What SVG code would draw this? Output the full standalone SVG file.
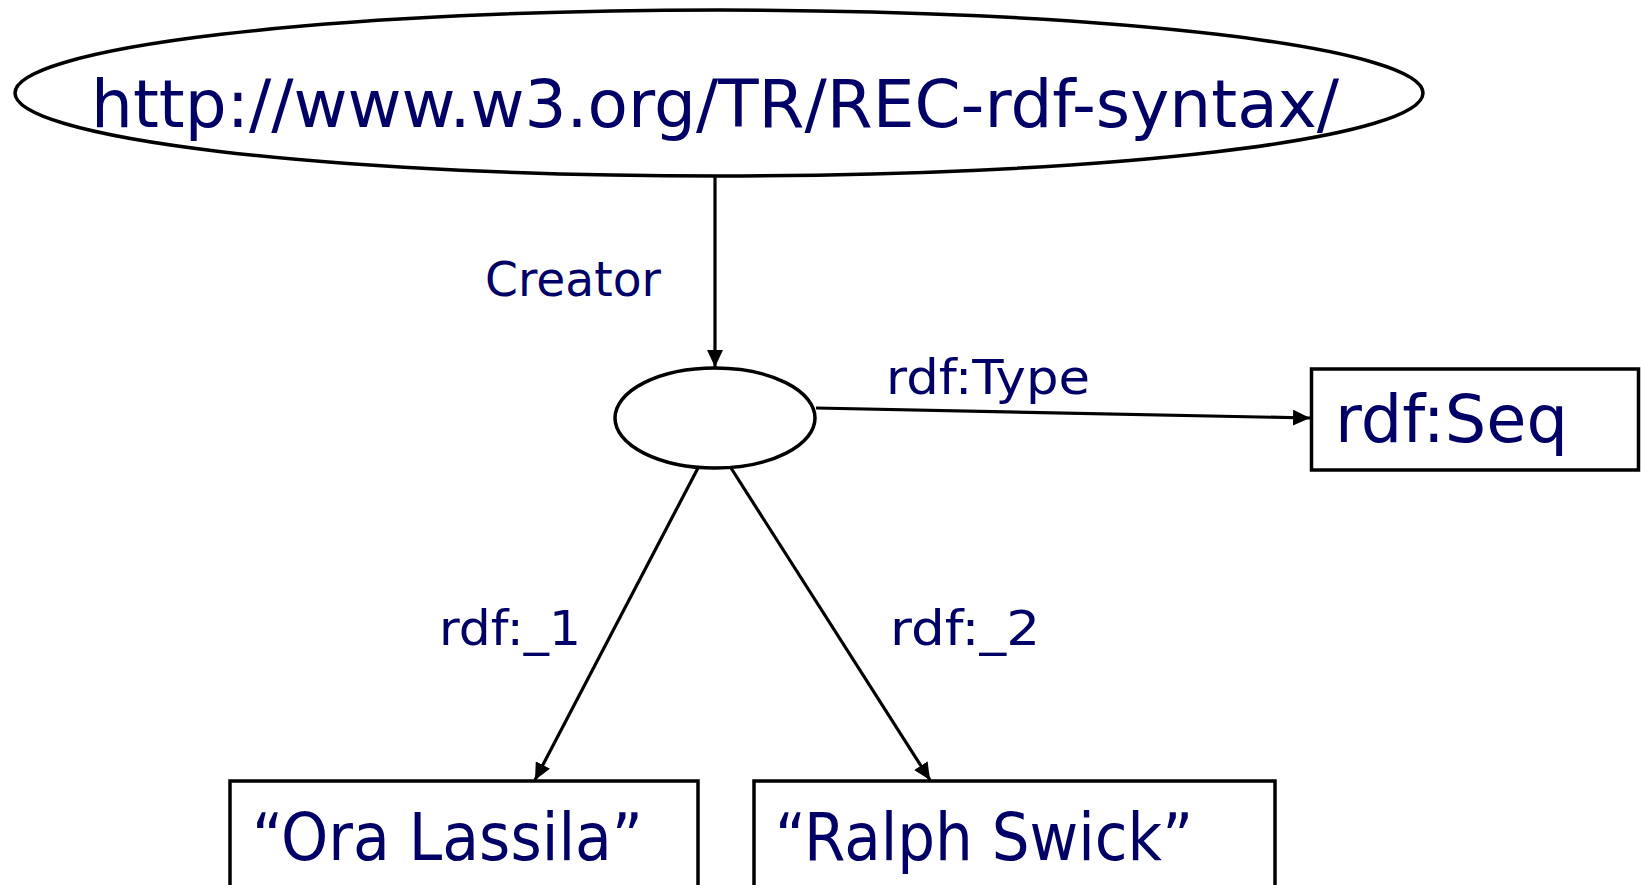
<svg xmlns="http://www.w3.org/2000/svg" width="1641" height="885" viewBox="0 0 1641 885">
<defs>
<style>
.shape{fill:#fff;stroke:#000;stroke-width:3.5}
.edge{fill:none;stroke:#000;stroke-width:3.2}
.t{fill:#000066;font-family:"DejaVu Sans","Liberation Sans",sans-serif}
.lbl{font-size:48px}
.big{font-size:66px}
</style>
<marker id="arr" markerUnits="userSpaceOnUse" markerWidth="18" markerHeight="16" refX="17" refY="8" orient="auto" viewBox="0 0 18 16">
<path d="M0,0 L17,8 L0,16 z" fill="#000"/>
</marker>
</defs>
<rect width="1641" height="885" fill="#fff"/>
<g id="connectors">
<line class="edge" x1="715" y1="176" x2="715" y2="367" marker-end="url(#arr)"/>
<line class="edge" x1="816" y1="408" x2="1310" y2="418" marker-end="url(#arr)"/>
<line class="edge" x1="698" y1="468" x2="535" y2="780" marker-end="url(#arr)"/>
<line class="edge" x1="731" y1="468" x2="930" y2="780" marker-end="url(#arr)"/>
<text class="t lbl" x="485" y="296" textLength="176" lengthAdjust="spacingAndGlyphs">Creator</text>
<text class="t lbl" x="886" y="394" textLength="204" lengthAdjust="spacingAndGlyphs">rdf:Type</text>
<text class="t lbl" x="439" y="645" textLength="142" lengthAdjust="spacingAndGlyphs">rdf:_1</text>
<text class="t lbl" x="890" y="645" textLength="150" lengthAdjust="spacingAndGlyphs">rdf:_2</text>
</g>
<g id="node-uri">
<ellipse class="shape" cx="719" cy="93" rx="704" ry="83"/>
<text class="t big" x="91" y="127" textLength="1248" lengthAdjust="spacingAndGlyphs">http://www.w3.org/TR/REC-rdf-syntax/</text>
</g>
<g id="node-blank">
<ellipse class="shape" cx="715" cy="418" rx="100" ry="50"/>
</g>
<g id="node-seq">
<rect class="shape" x="1311.5" y="369" width="327" height="101"/>
<text class="t big" x="1335" y="442" textLength="233" lengthAdjust="spacingAndGlyphs">rdf:Seq</text>
</g>
<g id="node-ora">
<rect class="shape" x="230" y="781" width="468" height="110"/>
<text class="t big" x="252" y="860" textLength="391" lengthAdjust="spacingAndGlyphs">“Ora Lassila”</text>
</g>
<g id="node-ralph">
<rect class="shape" x="754" y="781" width="521" height="110"/>
<text class="t big" x="775" y="860" textLength="418" lengthAdjust="spacingAndGlyphs">“Ralph Swick”</text>
</g>
</svg>
